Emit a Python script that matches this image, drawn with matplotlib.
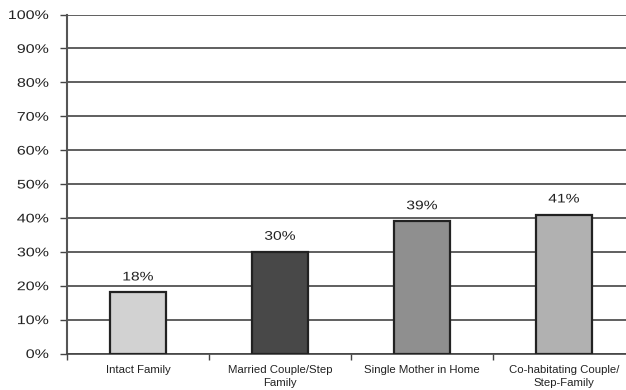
import matplotlib
matplotlib.use("Agg")
import matplotlib.pyplot as plt
from matplotlib.ticker import FixedLocator, PercentFormatter
from matplotlib.patheffects import AbstractPathEffect
from matplotlib.transforms import Affine2D

plt.rcParams['font.family'] = ['Liberation Sans', 'DejaVu Sans']

categories = ["Intact Family", "Married Couple/Step\nFamily",
              "Single Mother in Home", "Co-habitating Couple/\nStep-Family"]
values = [18, 30, 39, 41]
bar_colors = ["#d2d2d2", "#484848", "#8f8f8f", "#b1b1b1"]
y_ticks = list(range(0, 101, 10))


class WideText(AbstractPathEffect):
    """Draw text glyphs widened horizontally about a fixed edge or centre."""

    def __init__(self, sx, anchor="center"):
        super().__init__()
        self.sx = sx
        self.anchor = anchor

    def draw_path(self, renderer, gc, tpath, affine, rgbFace=None):
        ext = tpath.get_extents()
        x0 = ext.x1 if self.anchor == "right" else 0.5 * (ext.x0 + ext.x1)
        stretch = Affine2D().translate(-x0, 0).scale(self.sx, 1).translate(x0, 0)
        renderer.draw_path(gc, tpath, stretch + affine, rgbFace)


W, H = 626, 390
fig = plt.figure(figsize=(W / 100, H / 100), dpi=100)
left, right = 67, 635
bottom, top = 353.5, 14.5
ax = fig.add_axes([left / W, (H - bottom) / H, (right - left) / W, (bottom - top) / H])

x = list(range(len(categories)))
ax.bar(x, values, width=0.39, color=bar_colors, edgecolor="#222222",
       linewidth=1.6, zorder=3)

for xi, v in zip(x, values):
    ax.annotate(f"{v}%", (xi, v), xytext=(0, 6.5), textcoords="offset points",
                ha="center", va="bottom", fontsize=9, color="#222222",
                path_effects=[WideText(1.25, "center")])

ax.set_xlim(-0.5, len(categories) - 0.5)
ax.set_ylim(0, 100)
ax.set_yticks(y_ticks)
ax.yaxis.set_major_formatter(PercentFormatter(decimals=0))
ax.grid(axis="y", color="#444444", linewidth=1.2, zorder=1)

ax.set_xticks(x)
ax.set_xticklabels(categories, fontsize=8.2, color="#222222", linespacing=1.4)
ax.xaxis.set_minor_locator(FixedLocator([i + 0.5 for i in range(-1, len(categories))]))
ax.tick_params(axis="x", which="major", length=0, pad=8)
ax.tick_params(axis="x", which="minor", length=4, width=1, color="#444444")
ax.tick_params(axis="y", length=5, width=1, color="#444444", pad=8,
               labelsize=9, labelcolor="#222222")
for lab in ax.get_yticklabels():
    lab.set_path_effects([WideText(1.28, "right")])

for side in ("top", "right"):
    ax.spines[side].set_visible(False)
ax.spines["left"].set_color("#555555")
ax.spines["left"].set_linewidth(1.5)
ax.spines["bottom"].set_color("#444444")
ax.spines["bottom"].set_linewidth(1.2)
ax.set_axisbelow(True)

fig.savefig("out.png", dpi=100)
